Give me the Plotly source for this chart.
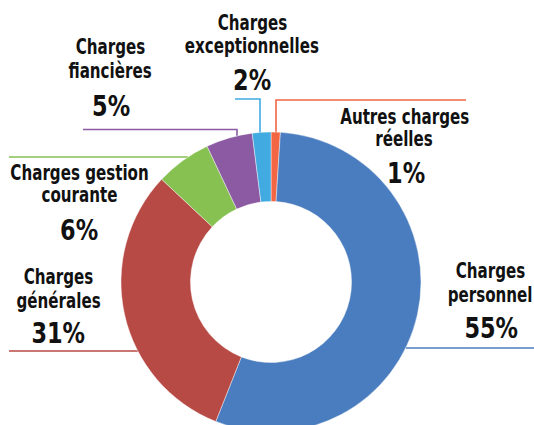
import plotly.graph_objects as go

# ---- data ----
categories = ["Autres charges réelles", "Charges personnel", "Charges générales",
              "Charges gestion courante", "Charges fiancières", "Charges exceptionnelles"]
label_lines = [["Autres charges", "réelles"], ["Charges", "personnel"], ["Charges", "générales"],
               ["Charges gestion", "courante"], ["Charges", "fiancières"], ["Charges", "exceptionnelles"]]
values = [1, 55, 31, 6, 5, 2]
colors = ["#F26644", "#4A7DBF", "#B84A45", "#86C152", "#8C5AA3", "#40AAE1"]

# ---- layout constants (pixels) ----
W, H = 534, 432
CX, CY, R = 271, 282, 150

FONT = "DejaVu Sans Condensed, DejaVu Sans, sans-serif"

# label positions: (x, y line1, y line2, x pct, y pct)
label_pos = [
    (404, 117, 139, 406, 173),
    (490, 271, 295, 491, 328),
    (58, 277, 301, 58, 333),
    (79, 173, 195, 79, 230),
    (110, 47, 71, 111, 106),
    (252, 23, 46, 252, 80),
]
# leader line paths (pixels)
leader_paths = [
    [(276, 133), (276, 100), (466, 100)],
    [(406, 348), (534, 348)],
    [(9, 351), (138, 351)],
    [(9, 157), (188, 157)],
    [(83, 129.5), (237, 129.5), (237, 136)],
    [(235, 99), (260, 99), (260, 133)],
]


def px(x):
    return x / W


def py(y):
    return 1 - y / H


fig = go.Figure(go.Pie(
    labels=categories,
    values=values,
    sort=False,
    direction="clockwise",
    rotation=0,
    hole=0.537,
    textinfo="none",
    hoverinfo="label+percent",
    marker=dict(colors=colors, line=dict(color="rgba(255,255,255,0.6)", width=0.7)),
    domain=dict(x=[(CX - R) / W, (CX + R) / W], y=[py(CY + R), py(CY - R)]),
    showlegend=False,
))

annotations = []
shapes = []
for lines, v, pos, col, path in zip(label_lines, values, label_pos, colors, leader_paths):
    x, y1, y2, xp, yp = pos
    for txt, yy in zip(lines, (y1, y2)):
        annotations.append(dict(x=px(x), y=py(yy), xref="paper", yref="paper", text=txt,
                                showarrow=False, xanchor="center", yanchor="middle", name="name",
                                font=dict(family=FONT, size=21, color="#111111", weight="bold")))
    annotations.append(dict(x=px(xp), y=py(yp), xref="paper", yref="paper", text=f"{v}%",
                            showarrow=False, xanchor="center", yanchor="middle", name="pct",
                            font=dict(family=FONT, size=29, color="#111111", weight="bold")))
    d = "M " + " L ".join(f"{px(a):.5f},{py(b):.5f}" for a, b in path)
    shapes.append(dict(type="path", path=d, xref="paper", yref="paper",
                       line=dict(color=col, width=1.6), layer="below"))

fig.update_layout(
    width=W, height=H,
    margin=dict(l=0, r=0, t=0, b=0),
    paper_bgcolor="white",
    plot_bgcolor="white",
    annotations=annotations,
    shapes=shapes,
)

# page: no body margin, clip to the 425px window; condense label glyphs horizontally
post = """
document.body.style.margin='0';
document.documentElement.style.overflow='hidden';
document.body.style.overflow='hidden';
var gd=document.getElementById('{plot_id}');
gd.parentElement.style.height='425px';gd.parentElement.style.overflow='hidden';
var ts=gd.querySelectorAll('.annotation-text');
ts.forEach(function(t){
  var big=parseFloat(t.style.fontSize)>25;
  t.style.transformBox='fill-box';
  t.style.transformOrigin='center';
  t.style.transform='scaleX('+(big?0.86:0.8)+')';
});
"""
fig.write_html("out.html", post_script=post, config={"displayModeBar": False})
